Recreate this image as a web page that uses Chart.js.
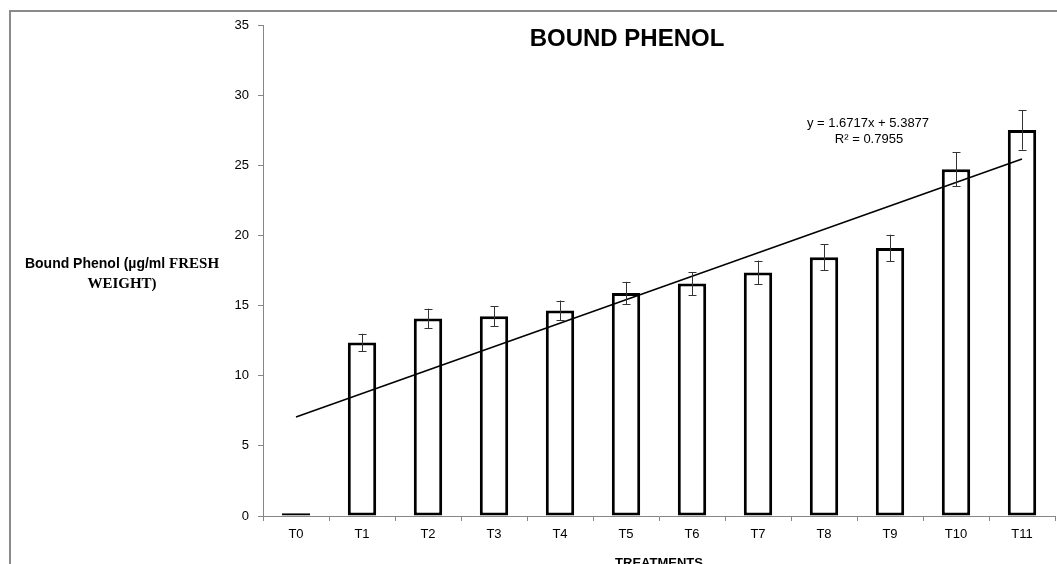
<!DOCTYPE html>
<html>
<head>
<meta charset="utf-8">
<title>Bound Phenol</title>
<script src="https://cdn.jsdelivr.net/npm/chart.js@4.4.0/dist/chart.umd.min.js"></script>
<style>
    body { margin: 0; background: #fff; overflow: hidden; }
    #wrap { position: relative; width: 1057px; height: 564px; overflow: hidden; }
    #frame {
        position: absolute; left: 9px; top: 10px;
        width: 1100px; height: 700px;
        border: 2px solid #8a8a8a;
        box-sizing: border-box;
    }
    canvas { position: absolute; left: 0; top: 0; }
</style>
</head>
<body>
<div id="wrap">
    <div id="frame"></div>
    <canvas id="phenol-chart" width="1057" height="564"></canvas>
</div>
<script>
// Data
const treatments = ['T0', 'T1', 'T2', 'T3', 'T4', 'T5', 'T6', 'T7', 'T8', 'T9', 'T10', 'T11'];
const boundPhenol = [0.2, 12.37, 14.08, 14.24, 14.65, 15.90, 16.57, 17.36, 18.45, 19.11, 24.72, 27.51];
const errorValues = [0, 0.62, 0.70, 0.70, 0.71, 0.79, 0.82, 0.85, 0.93, 0.94, 1.23, 1.40];
const yTicks = [0, 5, 10, 15, 20, 25, 30, 35];

// Linear trendline as labelled on the chart
const trendSlope = 1.6717;
const trendIntercept = 5.3877;
const trendLabel = 'y = 1.6717x + 5.3877';
const r2Label = 'R² = 0.7955';

const last = treatments.length - 1;
const trendData = treatments.map((t, i) =>
    (i === 0 || i === last) ? trendIntercept + trendSlope * (i + 1) : null);

const axisGrey = '#868686';

// Error bars drawn on top of the bars
const errorBarPlugin = {
    id: 'errorBars',
    afterDatasetsDraw(chart) {
        const meta = chart.getDatasetMeta(1);
        const y = chart.scales.y;
        const ctx = chart.ctx;
        ctx.save();
        ctx.strokeStyle = '#333';
        ctx.lineWidth = 1;
        meta.data.forEach((bar, i) => {
            const err = errorValues[i];
            if (!err) return;
            const x = Math.round(bar.x) + 0.5;
            const top = y.getPixelForValue(boundPhenol[i] + err);
            const bottom = y.getPixelForValue(boundPhenol[i] - err);
            ctx.beginPath();
            ctx.moveTo(x, top);
            ctx.lineTo(x, bottom);
            ctx.moveTo(x - 4, Math.round(top) + 0.5);
            ctx.lineTo(x + 4, Math.round(top) + 0.5);
            ctx.moveTo(x - 4, Math.round(bottom) + 0.5);
            ctx.lineTo(x + 4, Math.round(bottom) + 0.5);
            ctx.stroke();
        });
        ctx.restore();
    }
};

// Titles, axis captions and the trendline equation
const labelsPlugin = {
    id: 'chartLabels',
    afterDraw(chart) {
        const ctx = chart.ctx;
        const area = chart.chartArea;
        ctx.save();
        ctx.fillStyle = '#000';

        // main title
        ctx.textAlign = 'center';
        ctx.textBaseline = 'alphabetic';
        ctx.font = 'bold 24px "Liberation Sans", Arial, sans-serif';
        ctx.fillText('BOUND PHENOL', 627, 46);

        // trendline equation
        ctx.font = '13px "Liberation Sans", Arial, sans-serif';
        ctx.fillText(trendLabel, 868, 127);
        ctx.fillText(r2Label, 869, 143);

        // x axis title (cut by the bottom edge, as in the reference)
        ctx.font = 'bold 13px "Liberation Sans", Arial, sans-serif';
        ctx.fillText('TREATMENTS', (area.left + area.right) / 2, 567);

        // y axis caption, mixed fonts
        const partA = 'Bound Phenol (µg/ml ';
        const partB = 'FRESH';
        const fontA = 'bold 14px "Liberation Sans", Arial, sans-serif';
        const fontB = 'bold 15px "Liberation Serif", "Times New Roman", serif';
        ctx.font = fontA;
        const wA = ctx.measureText(partA).width;
        ctx.font = fontB;
        const wB = ctx.measureText(partB).width;
        const cx = 122;
        let x0 = cx - (wA + wB) / 2;
        ctx.textAlign = 'left';
        ctx.font = fontA;
        ctx.fillText(partA, x0, 268);
        ctx.font = fontB;
        ctx.fillText(partB, x0 + wA, 268);
        ctx.textAlign = 'center';
        ctx.fillText('WEIGHT)', cx, 288);
        ctx.restore();
    }
};

const ctx = document.getElementById('phenol-chart').getContext('2d');

new Chart(ctx, {
    type: 'bar',
    data: {
        labels: treatments,
        datasets: [
            {
                type: 'line',
                label: 'Linear trend',
                data: trendData,
                borderColor: '#000',
                borderWidth: 1.5,
                pointRadius: 0,
                spanGaps: true,
                fill: false,
                order: 0
            },
            {
                label: 'Bound Phenol',
                data: boundPhenol,
                backgroundColor: '#fff',
                borderColor: '#000',
                borderWidth: 3,
                borderSkipped: false,
                barPercentage: 0.43,
                categoryPercentage: 1.0,
                order: 1
            }
        ]
    },
    options: {
        responsive: false,
        animation: false,
        devicePixelRatio: 1,
        layout: {
            padding: { top: 25, right: 2, left: 0, bottom: 0 }
        },
        plugins: {
            legend: { display: false },
            tooltip: { enabled: false },
            title: { display: false }
        },
        scales: {
            x: {
                offset: true,
                grid: {
                    display: true,
                    offset: true,
                    drawOnChartArea: false,
                    drawTicks: true,
                    tickLength: 5,
                    color: axisGrey
                },
                border: { display: true, color: axisGrey, width: 1 },
                ticks: {
                    color: '#000',
                    padding: 6,
                    font: { family: '"Liberation Sans", Arial, sans-serif', size: 13 }
                },
                afterFit(scale) { scale.height = 48; }
            },
            y: {
                min: 0,
                max: 35,
                afterBuildTicks(scale) {
                    scale.ticks = yTicks.map(v => ({ value: v }));
                },
                grid: {
                    display: true,
                    drawOnChartArea: false,
                    drawTicks: true,
                    tickLength: 5,
                    color: axisGrey
                },
                border: { display: true, color: axisGrey, width: 1 },
                ticks: {
                    color: '#000',
                    padding: 9,
                    font: { family: '"Liberation Sans", Arial, sans-serif', size: 13 }
                },
                afterFit(scale) { scale.width = 263; }
            }
        }
    },
    plugins: [errorBarPlugin, labelsPlugin]
});
</script>
</body>
</html>
